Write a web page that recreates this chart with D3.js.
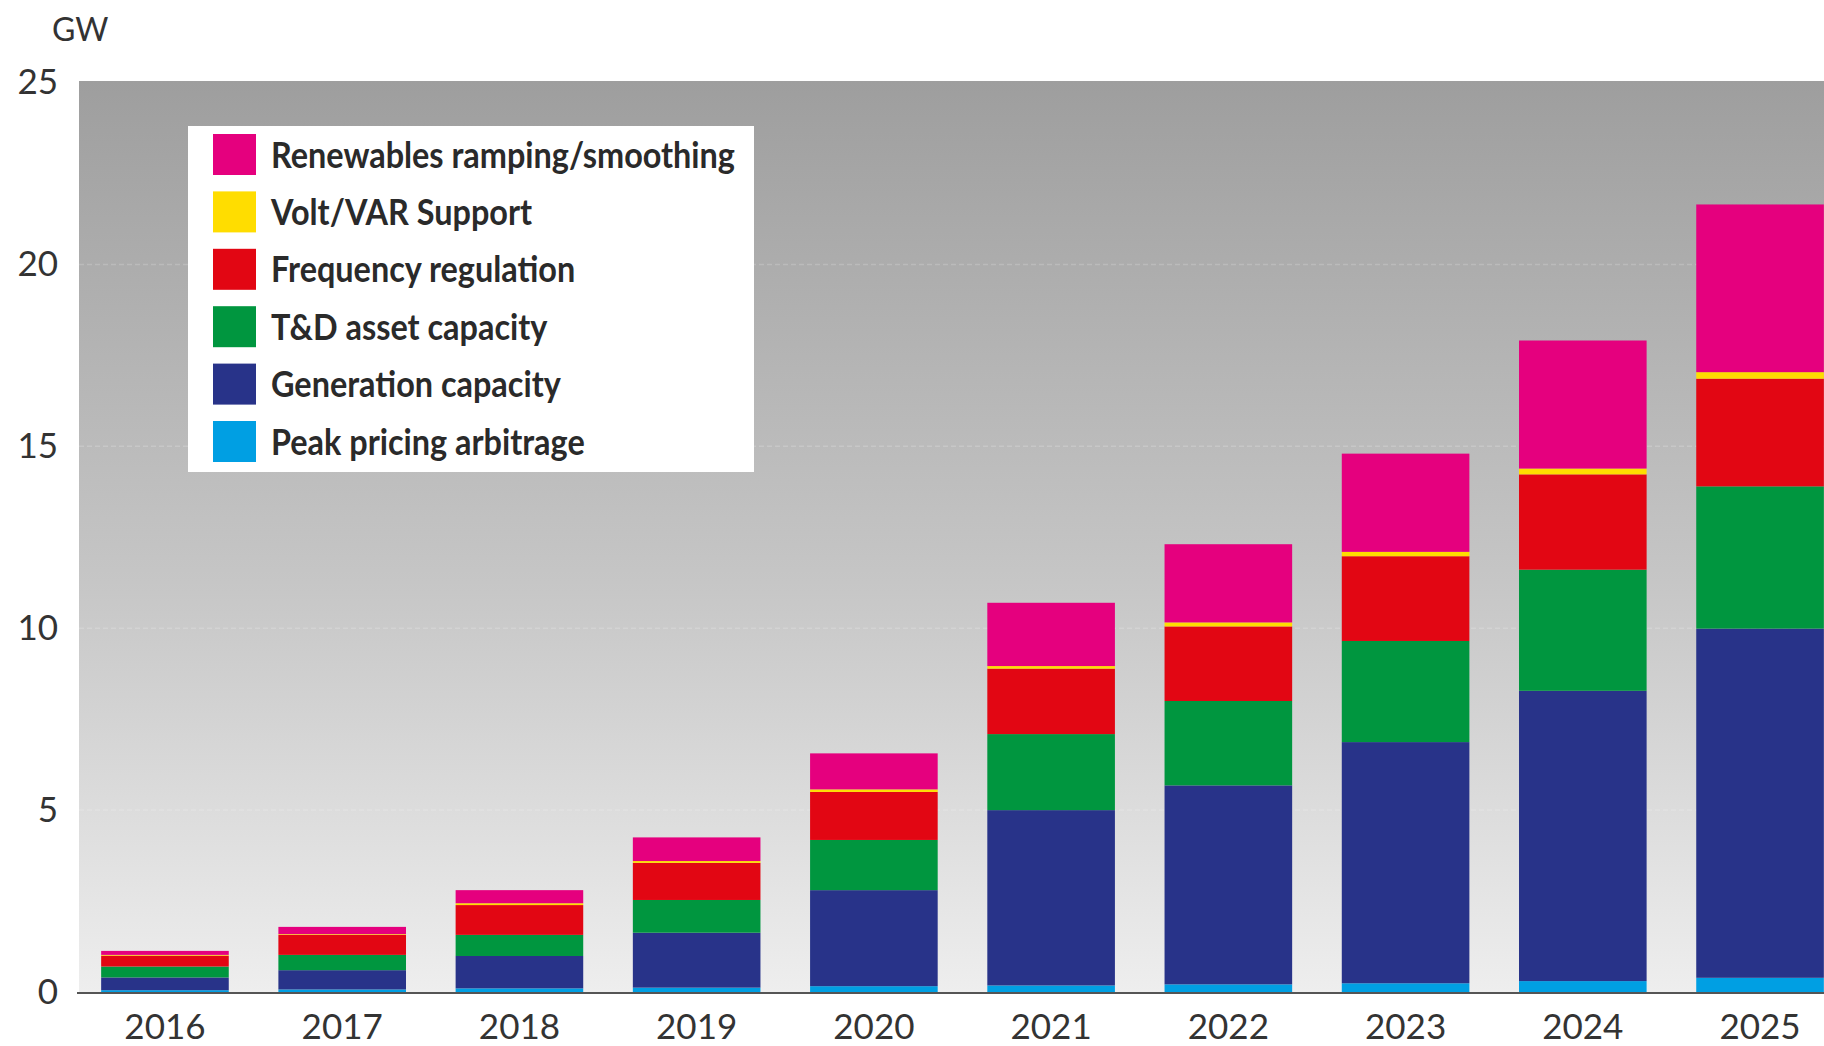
<!DOCTYPE html>
<meta charset="utf-8">
<style>
body { margin: 0; background: #fff; }
svg { display: block; }
.tick text { font-family: Lato, "Open Sans", sans-serif; fill: #333; }
.legend text { font-family: Lato, "Open Sans", sans-serif; font-weight: bold; fill: #2a2a2a; }
</style>
<svg width="1824" height="1046"></svg>
<script src="https://d3js.org/d3.v7.min.js"></script>
<script>

var years = ["2016", "2017", "2018", "2019", "2020", "2021", "2022", "2023", "2024", "2025"];
var peak       = [0.05, 0.07, 0.10, 0.12, 0.16, 0.18, 0.21, 0.24, 0.30, 0.39];
var generation = [0.35, 0.53, 0.89, 1.51, 2.64, 4.82, 5.47, 6.63, 7.98, 9.60];
var tdAsset    = [0.30, 0.42, 0.58, 0.90, 1.38, 2.09, 2.32, 2.78, 3.33, 3.91];
var frequency  = [0.30, 0.55, 0.82, 1.02, 1.32, 1.80, 2.05, 2.33, 2.62, 2.96];
var voltVar    = [0.02, 0.02, 0.05, 0.05, 0.07, 0.07, 0.11, 0.12, 0.16, 0.18];
var renewables = [0.11, 0.20, 0.36, 0.65, 0.99, 1.74, 2.15, 2.70, 3.52, 4.61];
var yTicks = [0, 5, 10, 15, 20, 25];

// bottom to top
var seriesKeys = ["peak", "generation", "td", "frequency", "volt", "renewables"];
var seriesNames = {
  peak: "Peak pricing arbitrage",
  generation: "Generation capacity",
  td: "T&D asset capacity",
  frequency: "Frequency regulation",
  volt: "Volt/VAR Support",
  renewables: "Renewables ramping/smoothing"
};
var colors = {
  peak: "#009fe3",
  generation: "#283389",
  td: "#00963f",
  frequency: "#e20613",
  volt: "#ffdd00",
  renewables: "#e5007e"
};

var table = years.map(function(y, i) {
  return {year: y, peak: peak[i], generation: generation[i], td: tdAsset[i],
          frequency: frequency[i], volt: voltVar[i], renewables: renewables[i]};
});

var svg = d3.select("svg");
var plotLeft = 79, plotTop = 81, plotRight = 1824;

var x = d3.scaleBand()
    .domain(years)
    .range([plotLeft, plotLeft + 1767])
    .paddingInner(0.28)
    .paddingOuter(0.125);

var y = d3.scaleLinear()
    .domain([0, 25])
    .range([992, 82.6]);

// background gradient
var grad = svg.append("defs").append("linearGradient")
    .attr("id", "bg")
    .attr("x1", 0).attr("y1", 0).attr("x2", 0).attr("y2", 1);
grad.append("stop").attr("offset", "0%").attr("stop-color", "#9e9e9e");
grad.append("stop").attr("offset", "55%").attr("stop-color", "#c6c6c6");
grad.append("stop").attr("offset", "100%").attr("stop-color", "#eeeeee");

svg.append("rect")
    .attr("x", plotLeft).attr("y", plotTop)
    .attr("width", plotRight - plotLeft)
    .attr("height", y(0) - plotTop)
    .attr("fill", "url(#bg)");

// faint gridlines
svg.append("g").selectAll("line")
    .data(yTicks.filter(function(d) { return d > 0 && d < 25; }))
    .enter().append("line")
    .attr("x1", plotLeft).attr("x2", plotRight)
    .attr("y1", function(d) { return y(d); })
    .attr("y2", function(d) { return y(d); })
    .attr("stroke", "rgba(255,255,255,0.18)")
    .attr("stroke-width", 1.5)
    .attr("stroke-dasharray", "5,3");

var stacked = d3.stack().keys(seriesKeys)(table);

svg.append("g").selectAll("g")
    .data(stacked)
    .enter().append("g")
    .attr("fill", function(d) { return colors[d.key]; })
    .selectAll("rect")
    .data(function(d) { return d; })
    .enter().append("rect")
    .attr("x", function(d) { return x(d.data.year); })
    .attr("y", function(d) { return y(d[1]); })
    .attr("width", x.bandwidth())
    .attr("height", function(d) { return y(d[0]) - y(d[1]); });

// zero line
svg.append("line")
    .attr("x1", plotLeft - 2).attr("x2", plotRight)
    .attr("y1", y(0) + 1).attr("y2", y(0) + 1)
    .attr("stroke", "#555")
    .attr("stroke-width", 2);

// y axis labels
var yAxis = svg.append("g")
    .attr("transform", "translate(58,0)")
    .call(d3.axisLeft(y).tickValues(yTicks).tickSize(0).tickPadding(0));
yAxis.select(".domain").remove();
yAxis.selectAll("text").attr("font-size", 35);

// x axis labels
var xAxis = svg.append("g")
    .attr("transform", "translate(0," + (y(0) + 22) + ")")
    .call(d3.axisBottom(x).tickSize(0).tickPadding(0));
xAxis.select(".domain").remove();
xAxis.selectAll("text").attr("font-size", 35);

svg.append("text")
    .attr("x", 52).attr("y", 41)
    .attr("font-family", "Lato, 'Open Sans', sans-serif")
    .attr("font-size", 32)
    .attr("fill", "#333")
    .text("GW");

// legend
var legend = svg.append("g").attr("class", "legend");
legend.append("rect")
    .attr("x", 188).attr("y", 126)
    .attr("width", 566).attr("height", 346)
    .attr("fill", "#fff");

var legendItems = seriesKeys.slice().reverse();
var row = legend.selectAll(".item")
    .data(legendItems)
    .enter().append("g")
    .attr("class", "item")
    .attr("transform", function(d, i) { return "translate(213," + (155 + i * 57.4) + ")"; });

row.append("rect")
    .attr("x", 0).attr("y", -21)
    .attr("width", 43).attr("height", 41)
    .attr("fill", function(d) { return colors[d]; });

// the original legend face is condensed, so squeeze the text horizontally
row.append("text")
    .attr("x", 58).attr("y", 0)
    .attr("dy", "0.35em")
    .attr("font-size", 36)
    .text(function(d) { return seriesNames[d]; })
    .each(function() {
      var w = this.getComputedTextLength();
      d3.select(this).attr("textLength", w * 0.9).attr("lengthAdjust", "spacingAndGlyphs");
    });

</script>
